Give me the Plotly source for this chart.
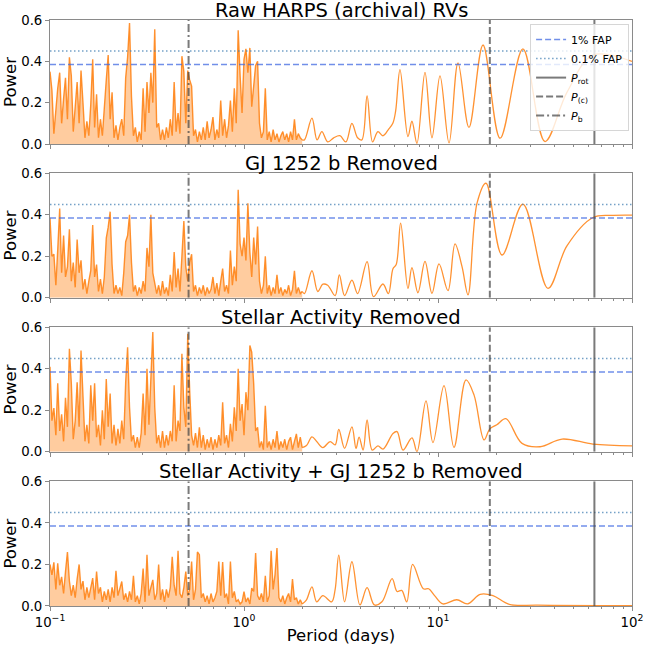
import plotly.graph_objects as go

# ---------------- data ----------------
# common dense period grid (days) used for the short-period part of all periodograms
period_dense = [
    0.1000, 0.1023, 0.1047, 0.1072, 0.1096, 0.1122, 0.1148, 0.1175, 0.1202, 0.1230,
    0.1259, 0.1288, 0.1318, 0.1349, 0.1380, 0.1413, 0.1445, 0.1479, 0.1514, 0.1549,
    0.1585, 0.1622, 0.1660, 0.1698, 0.1738, 0.1778, 0.1820, 0.1862, 0.1905, 0.1950,
    0.1995, 0.2042, 0.2089, 0.2138, 0.2188, 0.2239, 0.2291, 0.2344, 0.2399, 0.2455,
    0.2512, 0.2570, 0.2630, 0.2692, 0.2754, 0.2818, 0.2884, 0.2951, 0.3020, 0.3090,
    0.3162, 0.3236, 0.3311, 0.3388, 0.3467, 0.3548, 0.3631, 0.3715, 0.3802, 0.3890,
    0.3981, 0.4074, 0.4169, 0.4266, 0.4365, 0.4467, 0.4571, 0.4677, 0.4786, 0.4898,
    0.5012, 0.5129, 0.5248, 0.5370, 0.5495, 0.5623, 0.5754, 0.5888, 0.6026, 0.6166,
    0.6310, 0.6457, 0.6607, 0.6761, 0.6918, 0.7079, 0.7244, 0.7413, 0.7586, 0.7762,
    0.7943, 0.8128, 0.8318, 0.8511, 0.8710, 0.8913, 0.9120, 0.9333, 0.9550, 0.9772,
    1.000, 1.023, 1.047, 1.072, 1.096, 1.122, 1.148, 1.175, 1.202, 1.230,
    1.259, 1.288, 1.318, 1.349, 1.380, 1.413, 1.445, 1.479, 1.514, 1.549,
    1.585, 1.622, 1.660, 1.698, 1.738, 1.778, 1.820, 1.862, 1.905, 1.950,
    1.995,
]

power_raw_dense = [
    0.35, 0.26, 0.05, 0.18, 0.27, 0.345, 0.10, 0.22, 0.32, 0.12,
    0.42, 0.33, 0.06, 0.18, 0.30, 0.10, 0.355, 0.20, 0.03, 0.11,
    0.04, 0.19, 0.41, 0.08, 0.24, 0.03, 0.12, 0.04, 0.20, 0.31,
    0.43, 0.12, 0.25, 0.03, 0.09, 0.02, 0.08, 0.12, 0.04, 0.32,
    0.42, 0.585, 0.23, 0.04, 0.08, 0.01, 0.06, 0.02, 0.27, 0.06,
    0.30, 0.15, 0.345, 0.20, 0.555, 0.08, 0.10, 0.02, 0.07, 0.02,
    0.08, 0.03, 0.12, 0.04, 0.30, 0.06, 0.15, 0.05, 0.425, 0.35,
    0.10, 0.355, 0.31, 0.28, 0.04, 0.07, 0.01, 0.06, 0.02, 0.08,
    0.02, 0.11, 0.03, 0.07, 0.13, 0.02, 0.07, 0.03, 0.21, 0.04,
    0.12, 0.03, 0.09, 0.21, 0.06, 0.27, 0.10, 0.55, 0.33, 0.15,
    0.41, 0.46, 0.345, 0.465, 0.18, 0.30, 0.38, 0.40, 0.10, 0.03,
    0.06, 0.27, 0.02, 0.06, 0.01, 0.07, 0.02, 0.05, 0.01, 0.04,
    0.06, 0.02, 0.05, 0.01, 0.06, 0.02, 0.12, 0.02, 0.05, 0.03,
    0.02,
]
power_bremoved_dense = [
    0.385, 0.20, 0.21, 0.06, 0.23, 0.43, 0.12, 0.30, 0.10, 0.15,
    0.33, 0.08, 0.17, 0.05, 0.28, 0.12, 0.18, 0.04, 0.09, 0.02,
    0.08, 0.13, 0.35, 0.10, 0.16, 0.03, 0.09, 0.02, 0.10, 0.287,
    0.34, 0.415, 0.16, 0.02, 0.06, 0.02, 0.05, 0.01, 0.12, 0.27,
    0.30, 0.40, 0.17, 0.03, 0.06, 0.01, 0.05, 0.02, 0.08, 0.03,
    0.24, 0.15, 0.40, 0.12, 0.07, 0.02, 0.06, 0.01, 0.08, 0.02,
    0.05, 0.01, 0.11, 0.03, 0.22, 0.05, 0.14, 0.03, 0.20, 0.37,
    0.15, 0.08, 0.17, 0.21, 0.03, 0.06, 0.01, 0.05, 0.02, 0.06,
    0.01, 0.05, 0.02, 0.04, 0.10, 0.02, 0.07, 0.01, 0.08, 0.14,
    0.03, 0.06, 0.02, 0.227, 0.06, 0.15, 0.08, 0.52, 0.26, 0.20,
    0.29, 0.18, 0.456, 0.22, 0.10, 0.29, 0.16, 0.343, 0.08, 0.02,
    0.06, 0.20, 0.02, 0.06, 0.01, 0.05, 0.02, 0.11, 0.02, 0.05,
    0.01, 0.04, 0.02, 0.06, 0.01, 0.04, 0.13, 0.02, 0.05, 0.02,
    0.03,
]
power_actremoved_dense = [
    0.41, 0.15, 0.21, 0.08, 0.33, 0.10, 0.18, 0.05, 0.26, 0.12,
    0.496, 0.33, 0.06, 0.15, 0.335, 0.12, 0.488, 0.23, 0.05, 0.13,
    0.04, 0.32, 0.15, 0.33, 0.07, 0.13, 0.03, 0.20, 0.06, 0.35,
    0.12, 0.28, 0.04, 0.13, 0.03, 0.11, 0.04, 0.15, 0.06, 0.335,
    0.504, 0.214, 0.05, 0.08, 0.02, 0.07, 0.02, 0.09, 0.28, 0.08,
    0.40, 0.13, 0.375, 0.577, 0.214, 0.04, 0.08, 0.02, 0.10, 0.02,
    0.08, 0.03, 0.10, 0.05, 0.32, 0.05, 0.15, 0.10, 0.472, 0.214,
    0.12, 0.569, 0.295, 0.08, 0.03, 0.09, 0.02, 0.118, 0.02, 0.08,
    0.01, 0.06, 0.02, 0.07, 0.01, 0.06, 0.02, 0.08, 0.03, 0.238,
    0.04, 0.08, 0.02, 0.134, 0.05, 0.214, 0.10, 0.40, 0.15, 0.23,
    0.08, 0.287, 0.20, 0.512, 0.48, 0.327, 0.10, 0.118, 0.02, 0.05,
    0.01, 0.222, 0.02, 0.05, 0.01, 0.06, 0.02, 0.10, 0.01, 0.05,
    0.02, 0.06, 0.01, 0.05, 0.07, 0.01, 0.05, 0.086, 0.02, 0.07,
    0.02,
]
power_bothremoved_dense = [
    0.20, 0.15, 0.21, 0.08, 0.206, 0.10, 0.14, 0.06, 0.166, 0.26,
    0.12, 0.05, 0.10, 0.04, 0.13, 0.20, 0.08, 0.12, 0.03, 0.09,
    0.04, 0.08, 0.134, 0.03, 0.166, 0.06, 0.09, 0.02, 0.07, 0.03,
    0.08, 0.02, 0.09, 0.04, 0.169, 0.05, 0.08, 0.118, 0.03, 0.06,
    0.02, 0.07, 0.03, 0.145, 0.02, 0.05, 0.01, 0.06, 0.18, 0.02,
    0.247, 0.05, 0.09, 0.126, 0.03, 0.06, 0.20, 0.03, 0.08, 0.02,
    0.08, 0.04, 0.09, 0.237, 0.10, 0.05, 0.266, 0.06, 0.04, 0.09,
    0.166, 0.05, 0.08, 0.214, 0.03, 0.08, 0.26, 0.247, 0.04, 0.06,
    0.02, 0.05, 0.01, 0.06, 0.02, 0.04, 0.07, 0.214, 0.05, 0.211,
    0.04, 0.06, 0.01, 0.214, 0.04, 0.07, 0.02, 0.03, 0.01, 0.02,
    0.069, 0.02, 0.04, 0.01, 0.086, 0.07, 0.255, 0.05, 0.03, 0.06,
    0.02, 0.145, 0.02, 0.05, 0.266, 0.08, 0.15, 0.279, 0.04, 0.02,
    0.05, 0.01, 0.04, 0.06, 0.02, 0.13, 0.03, 0.04, 0.01, 0.03,
    0.01,
]

# longer-period (smooth) parts: peaks and troughs
period_raw_smooth = [2.05, 2.24, 2.38, 2.52, 2.70, 2.90, 3.12, 3.35, 3.60, 3.85,
                     4.05, 4.31, 4.60, 4.90, 5.20, 5.55, 5.85, 6.05, 6.37, 7.00,
                     7.34, 7.79, 8.57, 9.31, 10.24, 11.40, 12.68, 14.44, 17.06, 20.90,
                     27.40, 35.60, 46.20, 62.90, 100.0]
power_raw_smooth = [0.02, 0.125, 0.02, 0.06, 0.01, 0.03, 0.04, 0.01, 0.10, 0.03,
                    0.02, 0.233, 0.01, 0.06, 0.04, 0.07, 0.10, 0.16, 0.36, 0.036,
                    0.11, 0.003, 0.347, 0.03, 0.33, 0.005, 0.393, 0.08, 0.479, 0.028,
                    0.46, 0.012, 0.25, 0.43, 0.40]

period_bremoved_smooth = [2.05, 2.24, 2.40, 2.55, 2.70, 2.95, 3.10, 3.30, 3.60, 3.85,
                          4.31, 4.65, 5.20, 5.55, 5.86, 6.09, 6.42, 7.00, 7.34, 7.88,
                          8.57, 9.31, 10.12, 11.26, 12.24, 13.30, 14.28, 15.89, 17.68, 21.38,
                          27.40, 36.90, 46.20, 62.90, 80.0, 100.0]
power_bremoved_smooth = [0.02, 0.13, 0.03, 0.065, 0.06, 0.01, 0.11, 0.01, 0.085, 0.02,
                         0.174, 0.005, 0.066, 0.02, 0.14, 0.16, 0.36, 0.045, 0.145, 0.024,
                         0.175, 0.021, 0.163, 0.034, 0.26, 0.15, 0.014, 0.456, 0.552, 0.206,
                         0.451, 0.045, 0.25, 0.387, 0.397, 0.398]

period_actremoved_smooth = [2.10, 2.24, 2.37, 2.55, 2.78, 2.95, 3.08, 3.30, 3.60, 3.78,
                            3.92, 4.11, 4.31, 4.58, 4.90, 5.21, 5.86, 6.15, 6.60, 7.34,
                            7.79, 8.67, 9.42, 10.74, 12.09, 13.94, 15.33, 17.27, 18.50, 20.10,
                            22.40, 27.10, 33.60, 43.60, 62.90, 100.0]
power_actremoved_smooth = [0.03, 0.072, 0.049, 0.02, 0.049, 0.033, 0.108, 0.016, 0.12, 0.016,
                           0.07, 0.008, 0.153, 0.008, 0.028, 0.013, 0.088, 0.097, 0.008, 0.067,
                           0.0, 0.245, 0.044, 0.319, 0.021, 0.346, 0.274, 0.057, 0.11, 0.13,
                           0.159, 0.04, 0.024, 0.061, 0.037, 0.028]

period_bothremoved_smooth = [2.10, 2.24, 2.37, 2.55, 2.83, 2.95, 3.08, 3.30, 3.60, 3.96,
                             4.31, 4.70, 5.14, 5.80, 6.15, 6.50, 6.90, 7.40, 8.40, 8.95,
                             9.60, 10.60, 12.50, 14.20, 16.50, 19.20, 23.30, 32.70, 100.0]
power_bothremoved_smooth = [0.03, 0.092, 0.02, 0.05, 0.02, 0.08, 0.245, 0.02, 0.213, 0.005,
                            0.088, 0.005, 0.02, 0.132, 0.07, 0.075, 0.02, 0.20, 0.083, 0.083,
                            0.05, 0.01, 0.03, 0.01, 0.056, 0.05, 0.008, 0.004, 0.002]

panel_titles = ["Raw HARPS (archival) RVs", "GJ 1252 b Removed",
                "Stellar Activity Removed", "Stellar Activity + GJ 1252 b Removed"]

fap_1pct = 0.385
fap_01pct = 0.45
p_rot = 64.0
p_c = 18.5
p_b = 0.518

x_tick_vals = [0.1, 1, 10, 100]
x_tick_text = ["10<sup>\u22121</sup>", "10<sup>0</sup>", "10<sup>1</sup>", "10<sup>2</sup>"]
y_tick_vals = [0.0, 0.2, 0.4, 0.6]
y_tick_text = ["0.0", "0.2", "0.4", "0.6"]

# ---------------- figure ----------------
dense_sets = [power_raw_dense, power_bremoved_dense, power_actremoved_dense, power_bothremoved_dense]
smooth_sets = [(period_raw_smooth, power_raw_smooth),
               (period_bremoved_smooth, power_bremoved_smooth),
               (period_actremoved_smooth, power_actremoved_smooth),
               (period_bothremoved_smooth, power_bothremoved_smooth)]

domains = [[0.7884, 1.0], [0.5261, 0.7384], [0.2633, 0.4756], [0.0, 0.2128]]

ORANGE = "rgba(255,127,14,0.85)"
ORANGE_FILL = "rgba(255,127,14,0.40)"
FAP1_COLOR = "rgba(65,105,225,0.75)"
FAP01_COLOR = "rgba(70,130,180,0.75)"
VLINE_COLOR = "rgba(70,70,70,0.72)"
SPINE = "#8a8a8a"
FONT = "DejaVu Sans"

fig = go.Figure()
minor_vals = [m * 10 ** e for e in (-1, 0, 1) for m in range(2, 10)]

for i in range(4):
    xa = "x" if i == 0 else f"x{i + 1}"
    ya = "y" if i == 0 else f"y{i + 1}"
    first = (i == 0)

    fig.add_trace(go.Scatter(x=period_dense, y=dense_sets[i], mode="lines",
                             line=dict(color=ORANGE, width=1.4),
                             fill="tozeroy", fillcolor=ORANGE_FILL,
                             xaxis=xa, yaxis=ya, showlegend=False, hoverinfo="skip"))
    sp, sv = smooth_sets[i]
    fig.add_trace(go.Scatter(x=[period_dense[-1]] + sp, y=[dense_sets[i][-1]] + sv, mode="lines",
                             line=dict(color=ORANGE, width=1.3, shape="spline", smoothing=1.0),
                             xaxis=xa, yaxis=ya, showlegend=False, hoverinfo="skip"))

    fig.add_trace(go.Scatter(x=[0.1, 100], y=[fap_1pct, fap_1pct], mode="lines",
                             line=dict(color=FAP1_COLOR, width=1.5, dash="6px,3px"),
                             name="1% FAP", legendrank=1, showlegend=first,
                             xaxis=xa, yaxis=ya, hoverinfo="skip"))
    fig.add_trace(go.Scatter(x=[0.1, 100], y=[fap_01pct, fap_01pct], mode="lines",
                             line=dict(color=FAP01_COLOR, width=1.5, dash="1.5px,2.5px"),
                             name="0.1% FAP", legendrank=2, showlegend=first,
                             xaxis=xa, yaxis=ya, hoverinfo="skip"))
    fig.add_trace(go.Scatter(x=[p_rot, p_rot], y=[0, 0.6], mode="lines",
                             line=dict(color=VLINE_COLOR, width=2),
                             name="<i>P</i><sub>rot</sub>", legendrank=3, showlegend=first,
                             xaxis=xa, yaxis=ya, hoverinfo="skip"))
    fig.add_trace(go.Scatter(x=[p_c, p_c], y=[0, 0.6], mode="lines",
                             line=dict(color=VLINE_COLOR, width=2, dash="7px,3px"),
                             name="<i>P</i><sub>(c)</sub>", legendrank=4, showlegend=first,
                             xaxis=xa, yaxis=ya, hoverinfo="skip"))
    fig.add_trace(go.Scatter(x=[p_b, p_b], y=[0, 0.6], mode="lines",
                             line=dict(color=VLINE_COLOR, width=2, dash="8px,3px,2px,3px"),
                             name="<i>P</i><sub>b</sub>", legendrank=5, showlegend=first,
                             xaxis=xa, yaxis=ya, hoverinfo="skip"))

    xkey = "xaxis" if i == 0 else f"xaxis{i + 1}"
    ykey = "yaxis" if i == 0 else f"yaxis{i + 1}"
    xaxis = dict(type="log", range=[-1, 2], domain=[0, 1], anchor=ya, automargin=False,
                 tickvals=x_tick_vals, ticktext=x_tick_text,
                 showticklabels=(i == 3), ticks="outside", ticklen=4, tickwidth=1,
                 tickcolor=SPINE, showline=True, mirror=True, linecolor=SPINE, linewidth=1,
                 showgrid=False, zeroline=False,
                 minor=dict(tickvals=minor_vals, ticks="outside", ticklen=2, tickwidth=1,
                            tickcolor=SPINE, showgrid=False),
                 tickfont=dict(size=13.3, color="black", family=FONT))
    if i == 3:
        xaxis["title"] = dict(text="Period (days)", font=dict(size=16.5, color="black", family=FONT),
                              standoff=0)
    fig.layout[xkey] = xaxis
    fig.layout[ykey] = dict(domain=domains[i], anchor=xa, range=[0, 0.6], automargin=False,
                            tickvals=y_tick_vals, ticktext=y_tick_text,
                            ticks="outside", ticklen=4, tickwidth=1, tickcolor=SPINE,
                            showline=True, mirror=True, linecolor=SPINE, linewidth=1,
                            showgrid=False, zeroline=False,
                            tickfont=dict(size=13.3, color="black", family=FONT),
                            title=dict(text="Power", font=dict(size=16.5, color="black", family=FONT),
                                       standoff=0))
    fig.add_annotation(text=panel_titles[i], x=0.5, xref="paper", y=domains[i][1], yref="paper",
                       xanchor="center", yanchor="bottom", showarrow=False, yshift=-4,
                       font=dict(size=19.5, color="black", family=FONT))

fig.update_layout(
    width=646, height=648,
    margin=dict(l=50, r=14, t=20, b=42, autoexpand=False),
    paper_bgcolor="white", plot_bgcolor="white",
    font=dict(family=FONT, color="black"),
    showlegend=True,
    legend=dict(x=0.995, y=0.993, xanchor="right", yanchor="top",
                bgcolor="rgba(255,255,255,0.8)", bordercolor="#d6d6d6", borderwidth=1,
                font=dict(size=11, color="black", family=FONT),
                itemwidth=30, tracegroupgap=0),
)

fig.write_html("out.html")
